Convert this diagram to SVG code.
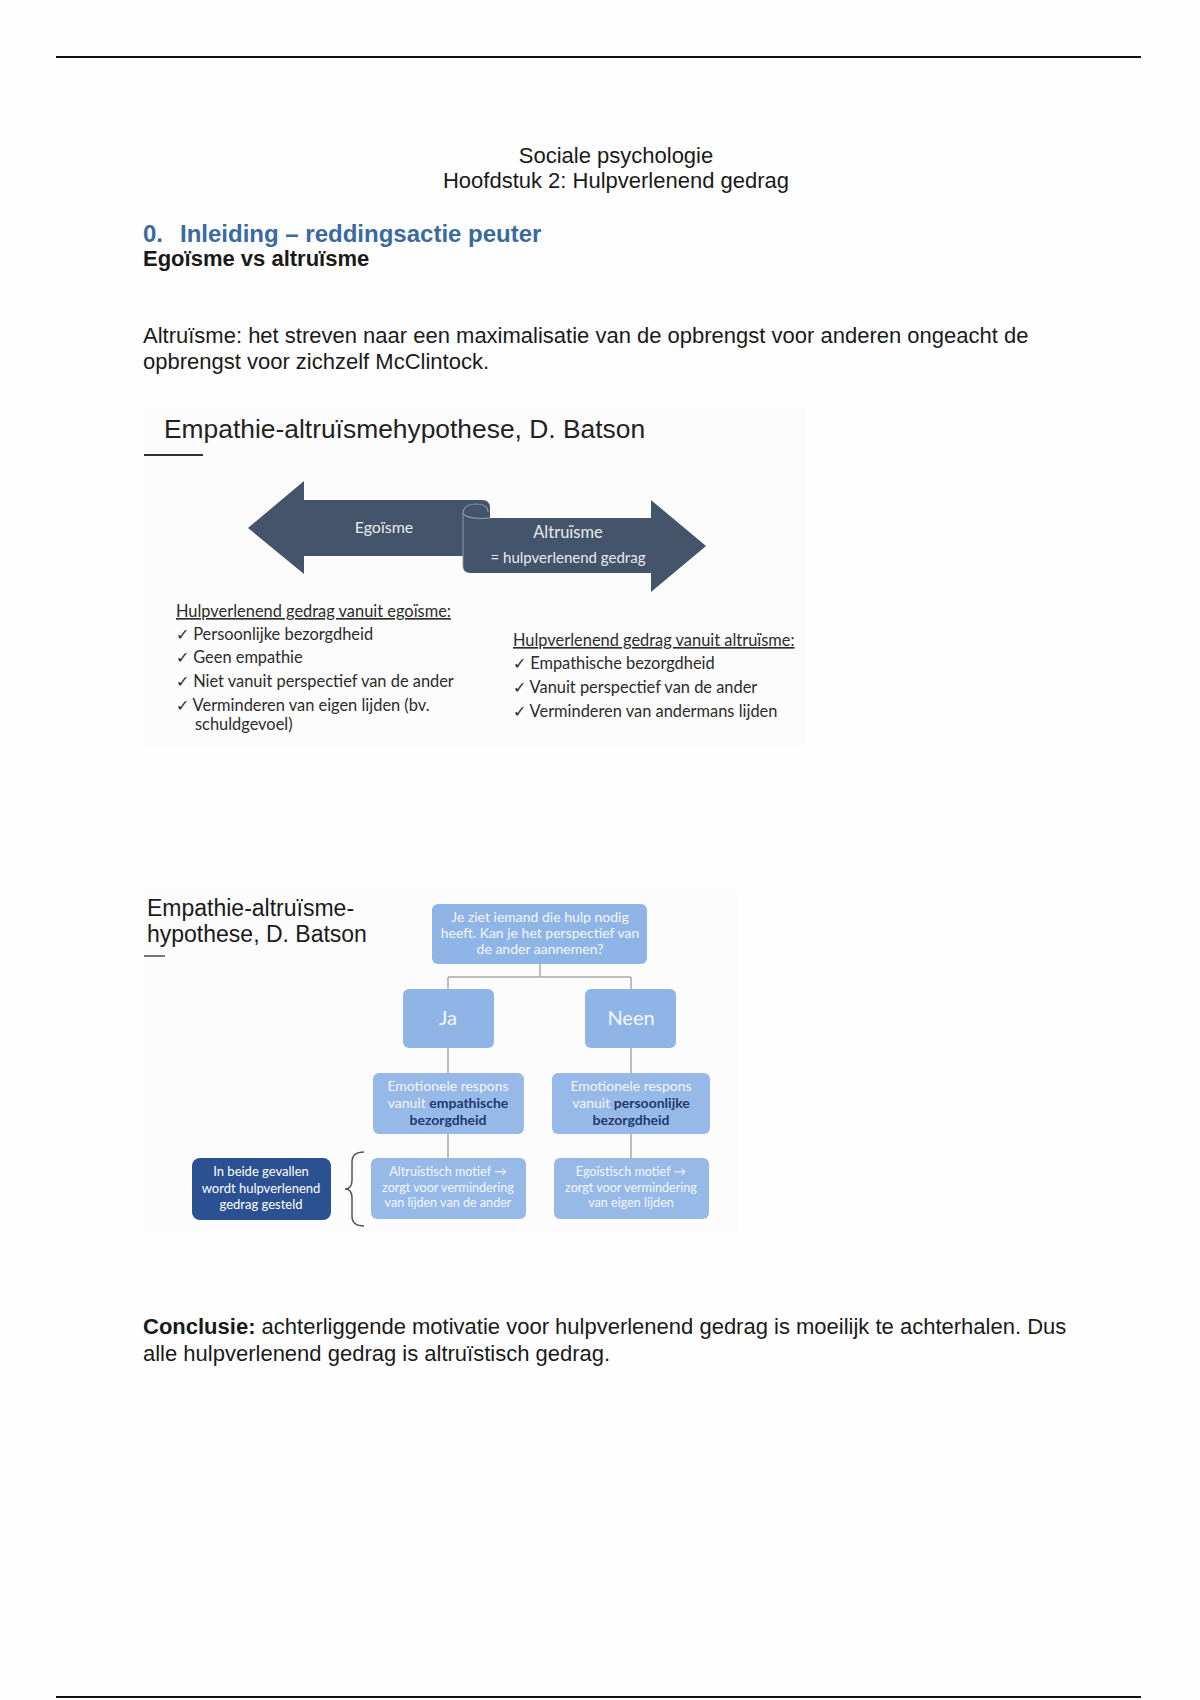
<svg xmlns="http://www.w3.org/2000/svg" width="1200" height="1700" viewBox="0 0 1200 1700">
<style>
.doc{font-family:"Liberation Sans",Arial,sans-serif;fill:#1a1a1a}
.cal{font-family:Lato,"Open Sans",sans-serif}
.lst{font-family:Lato,"Open Sans",sans-serif;font-size:16.4px;fill:#2b2b2b}
.box{fill:#8fb4e6}
.box2{fill:#97b9e8}
.conn{stroke:#a9a9a9;stroke-width:1.5;fill:none}
.bt{font-family:Lato,"Open Sans",sans-serif;font-size:14px;fill:#f4f8fd;text-anchor:middle}
.sm{font-size:12.6px}
.big{font-size:20px}
.dk{fill:#1f3a70;font-weight:bold}
</style>
<rect width="1200" height="1700" fill="#fefefe"/>
<line x1="56" y1="57" x2="1141" y2="57" stroke="#111" stroke-width="2"/>
<line x1="56" y1="1697" x2="1141" y2="1697" stroke="#111" stroke-width="2"/>

<g id="header" class="doc" font-size="22" text-anchor="middle">
<text x="616" y="163">Sociale psychologie</text>
<text x="616" y="188">Hoofdstuk 2: Hulpverlenend gedrag</text>
</g>
<text id="heading" y="242" font-family="Liberation Sans,Arial,sans-serif" font-size="24" font-weight="bold" fill="#3a6a9e"><tspan x="143">0.</tspan><tspan x="180">Inleiding – reddingsactie peuter</tspan></text>
<text id="subheading" x="143" y="266" class="doc" font-size="22" font-weight="bold" fill="#111">Egoïsme vs altruïsme</text>
<g id="definition" class="doc" font-size="22">
<text x="143" y="343">Altruïsme: het streven naar een maximalisatie van de opbrengst voor anderen ongeacht de</text>
<text x="143" y="369">opbrengst voor zichzelf McClintock.</text>
</g>

<!-- figure 1 -->
<g id="fig1">
<rect x="144" y="408" width="662" height="340" fill="#fcfcfc"/>
<text x="164" y="438" font-family="Liberation Sans,Arial,sans-serif" font-size="26.4" fill="#222">Empathie-altruïsmehypothese, D. Batson</text>
<line x1="144" y1="455" x2="203" y2="455" stroke="#333" stroke-width="2"/>
</g>

<g id="arrow-egoisme">
<path d="M248,528 L304,481 L304,500 L482,500 Q490,500 490,508 L490,556 L304,556 L304,574 Z" fill="#44546a"/>
<text x="384" y="533" class="cal" font-size="16" fill="#e6eaf0" text-anchor="middle">Egoïsme</text>
</g>
<g id="arrow-altruisme">
<path d="M470,518 L651,518 L651,500 L706,546 L651,592 L651,573 L470,573 Q463,573 463,566 L463,512 Q463,502 476,502 Q490,502 490,510 L490,518" fill="#44546a"/>
<path d="M463,514 Q463,504 476,504 Q488,504 488,512 M463,514 Q470,520 490,518" fill="none" stroke="#8e9aab" stroke-width="1.2"/>
<line x1="463" y1="514" x2="463" y2="566" stroke="#8e9aab" stroke-width="1"/>
<text x="568" y="538" class="cal" font-size="16.5" fill="#e6eaf0" text-anchor="middle">Altruïsme</text>
<text x="568" y="563" class="cal" font-size="15" fill="#e6eaf0" text-anchor="middle">= hulpverlenend gedrag</text>
</g>

<g id="list-egoisme" class="lst">
<text x="176" y="617" text-decoration="underline">Hulpverlenend gedrag vanuit egoïsme:</text>
<text x="176" y="640">✓ Persoonlijke bezorgdheid</text>
<text x="176" y="663">✓ Geen empathie</text>
<text x="176" y="687">✓ Niet vanuit perspectief van de ander</text>
<text x="176" y="711">✓ Verminderen van eigen lijden (bv.</text>
<text x="195" y="730">schuldgevoel)</text>
</g>
<g id="list-altruisme" class="lst">
<text x="513" y="646" text-decoration="underline">Hulpverlenend gedrag vanuit altruïsme:</text>
<text x="513" y="669">✓ Empathische bezorgdheid</text>
<text x="513" y="693">✓ Vanuit perspectief van de ander</text>
<text x="513" y="717">✓ Verminderen van andermans lijden</text>
</g>

<!-- figure 2 -->
<g id="fig2">
<rect x="144" y="890" width="593" height="342" fill="#fcfcfc"/>
<text class="doc" font-size="23" fill="#222"><tspan x="147" y="916">Empathie-altruïsme-</tspan><tspan x="147" y="942">hypothese, D. Batson</tspan></text>
<line x1="144" y1="956" x2="165" y2="956" stroke="#777" stroke-width="2"/>
</g>

<g id="connectors">
<path class="conn" d="M540,964 V977 M448,977 H631 M448,977 V989 M631,977 V989"/>
<path class="conn" d="M448,1048 V1073 M631,1048 V1073 M448,1134 V1158 M631,1134 V1158"/>
<path d="M364,1152 Q352,1152 352,1162 L352,1180 Q352,1189 345,1189 Q352,1189 352,1198 L352,1216 Q352,1226 364,1226" fill="none" stroke="#555" stroke-width="1.5"/>
</g>

<g id="q">
<rect x="432" y="904" width="215" height="60" rx="6" class="box"/>
<text class="bt"><tspan x="540" y="922">Je ziet iemand die hulp nodig</tspan><tspan x="540" y="938">heeft. Kan je het perspectief van</tspan><tspan x="540" y="954">de ander aannemen?</tspan></text>
</g>
<g id="ja">
<rect x="403" y="989" width="91" height="59" rx="6" class="box"/>
<text x="448" y="1025" class="bt big">Ja</text>
</g>
<g id="neen">
<rect x="585" y="989" width="91" height="59" rx="6" class="box"/>
<text x="631" y="1025" class="bt big">Neen</text>
</g>
<g id="emo-ja">
<rect x="373" y="1073" width="151" height="61" rx="6" class="box2"/>
<text class="bt"><tspan x="448" y="1091">Emotionele respons</tspan><tspan x="448" y="1108">vanuit <tspan class="dk">empathische</tspan></tspan><tspan x="448" y="1125" class="dk">bezorgdheid</tspan></text>
</g>
<g id="emo-neen">
<rect x="552" y="1073" width="158" height="61" rx="6" class="box2"/>
<text class="bt"><tspan x="631" y="1091">Emotionele respons</tspan><tspan x="631" y="1108">vanuit <tspan class="dk">persoonlijke</tspan></tspan><tspan x="631" y="1125" class="dk">bezorgdheid</tspan></text>
</g>
<g id="motief-ja">
<rect x="371" y="1158" width="155" height="61" rx="6" class="box2"/>
<text class="bt sm"><tspan x="448" y="1176">Altruïstisch motief →</tspan><tspan x="448" y="1192">zorgt voor vermindering</tspan><tspan x="448" y="1207">van lijden van de ander</tspan></text>
</g>
<g id="motief-neen">
<rect x="554" y="1158" width="155" height="61" rx="6" class="box2"/>
<text class="bt sm"><tspan x="631" y="1176">Egoïstisch motief →</tspan><tspan x="631" y="1192">zorgt voor vermindering</tspan><tspan x="631" y="1207">van eigen lijden</tspan></text>
</g>
<g id="beide">
<rect x="192" y="1158" width="139" height="62" rx="8" fill="#2b5193"/>
<text class="bt" style="font-size:13px;fill:#ffffff"><tspan x="261" y="1176">In beide gevallen</tspan><tspan x="261" y="1193">wordt hulpverlenend</tspan><tspan x="261" y="1209">gedrag gesteld</tspan></text>
</g>

<g id="conclusion" class="doc" font-size="22">
<text x="143" y="1334"><tspan font-weight="bold">Conclusie:</tspan> achterliggende motivatie voor hulpverlenend gedrag is moeilijk te achterhalen. Dus</text>
<text x="143" y="1361">alle hulpverlenend gedrag is altruïstisch gedrag.</text>
</g>
</svg>
